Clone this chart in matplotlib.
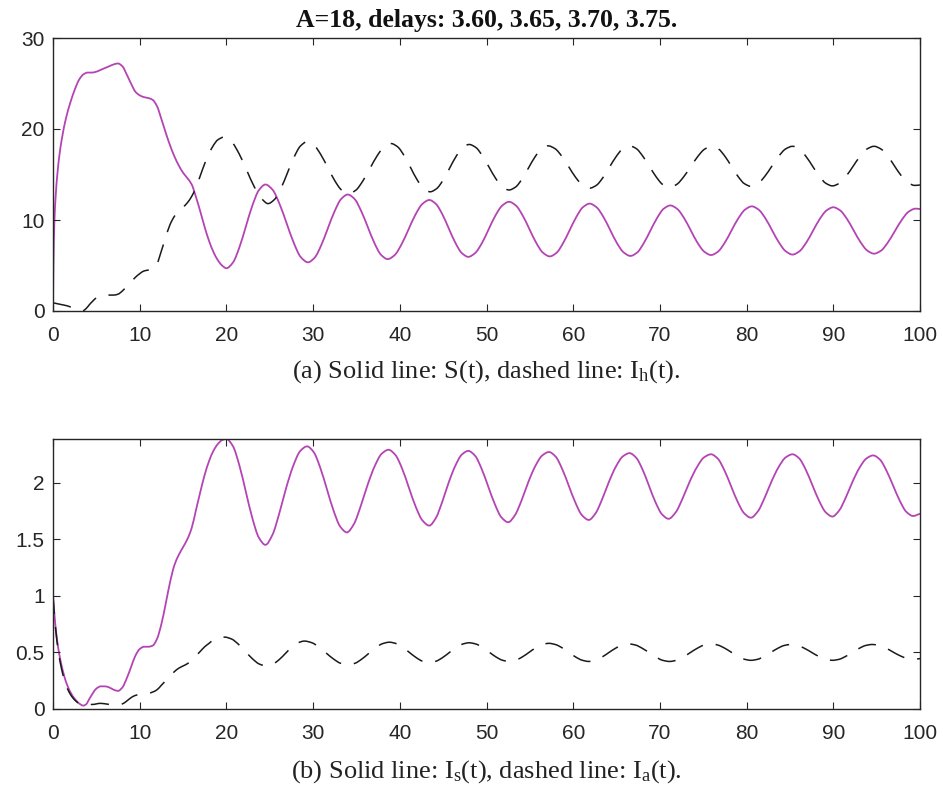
import matplotlib
matplotlib.use("Agg")
import matplotlib.pyplot as plt
import numpy as np
from matplotlib.path import Path
from matplotlib.patches import PathPatch
from matplotlib.ticker import FormatStrFormatter

plt.rcParams['mathtext.fontset'] = 'custom'
plt.rcParams['mathtext.rm'] = 'Liberation Serif'
plt.rcParams['mathtext.it'] = 'Liberation Serif:italic'

# ---- top panel: S(t) solid, I_h(t) dashed ----
t_S = [0.0, 0.05, 0.15, 0.3, 0.5, 0.75, 1.0, 1.5, 2.0, 2.5, 3.0, 3.5, 4.0, 4.5, 5.0, 5.5, 6.0, 6.5,
       7.0, 7.5, 8.0, 8.5, 9.0, 9.5, 10.0, 10.5, 11.0, 11.5, 12.0, 12.5, 13.0, 13.5, 14.0, 14.5,
       15.0, 15.5, 16.0, 16.5, 17.0, 17.5, 18.0, 18.5, 19.0, 19.5, 20.0,
       20.75, 21.5, 22.25, 23.0, 23.75, 24.5, 25.32, 26.13, 26.95, 27.77, 28.58, 29.4,
       30.17, 30.93, 31.7, 32.47, 33.23, 34.0, 34.77, 35.53, 36.3, 37.07, 37.83, 38.6,
       39.4, 40.2, 41.0, 41.8, 42.6, 43.4, 44.15, 44.9, 45.65, 46.4, 47.15, 47.9,
       48.68, 49.47, 50.25, 51.03, 51.82, 52.6, 53.38, 54.17, 54.95, 55.73, 56.52, 57.3,
       58.07, 58.83, 59.6, 60.37, 61.13, 61.9, 62.68, 63.47, 64.25, 65.03, 65.82, 66.6,
       67.37, 68.13, 68.9, 69.67, 70.43, 71.2, 71.98, 72.77, 73.55, 74.33, 75.12, 75.9,
       76.68, 77.47, 78.25, 79.03, 79.82, 80.6, 81.38, 82.17, 82.95, 83.73, 84.52, 85.3,
       86.08, 86.87, 87.65, 88.43, 89.22, 90.0, 90.78, 91.57, 92.35, 93.13, 93.92, 94.7,
       95.5, 96.3, 97.1, 97.9, 98.7, 99.5, 100.0]
S = [0.9, 5.0, 9.5, 12.5, 15.0, 17.2, 18.8, 21.2, 22.9, 24.3, 25.4, 26.0, 26.2, 26.2, 26.3, 26.5, 26.7, 26.9,
     27.1, 27.2, 26.9, 26.0, 25.0, 24.1, 23.7, 23.5, 23.4, 23.2, 22.5, 21.1, 19.6, 18.2, 17.0, 16.0,
     15.2, 14.6, 13.9, 12.5, 10.9, 9.2, 7.7, 6.5, 5.6, 5.0, 4.7,
     5.32, 7.0, 9.3, 11.6, 13.28, 13.9, 13.33, 11.76, 9.63, 7.49, 5.92, 5.35,
     5.85, 7.21, 9.08, 10.94, 12.30, 12.8, 12.32, 11.02, 9.25, 7.47, 6.18, 5.7,
     6.14, 7.33, 8.95, 10.58, 11.76, 12.2, 11.78, 10.64, 9.07, 7.51, 6.37, 5.95,
     6.36, 7.46, 8.98, 10.49, 11.59, 12.0, 11.6, 10.5, 9.0, 7.5, 6.4, 6.0,
     6.39, 7.45, 8.9, 10.35, 11.41, 11.8, 11.41, 10.36, 8.93, 7.49, 6.44, 6.05,
     6.42, 7.44, 8.83, 10.21, 11.23, 11.6, 11.23, 10.24, 8.88, 7.51, 6.52, 6.15,
     6.51, 7.49, 8.83, 10.16, 11.14, 11.5, 11.14, 10.18, 8.85, 7.53, 6.56, 6.2,
     6.55, 7.5, 8.8, 10.1, 11.05, 11.4, 11.06, 10.13, 8.85, 7.58, 6.64, 6.3,
     6.63, 7.54, 8.78, 10.01, 10.92, 11.25, 11.2]

t_Ih = [0.0, 0.5, 1.0, 1.5, 2.0, 2.5, 3.0, 3.4, 3.8, 4.2, 4.6, 5.0, 5.5, 6.0, 6.5, 7.0, 7.5, 8.0, 8.5,
        9.0, 9.5, 10.0, 10.5, 11.0, 11.5, 12.0, 12.5, 13.0, 13.5, 14.0, 14.5, 15.0, 15.5, 16.0, 16.5,
        17.0, 17.5, 18.0, 18.5, 19.0, 19.7,
        20.58, 21.47, 22.35, 23.23, 24.12, 24.8, 25.55, 26.3, 27.05, 27.8, 28.55, 29.3,
        30.1, 30.9, 31.7, 32.5, 33.3, 34.1, 34.92, 35.73, 36.55, 37.37, 38.18, 39.0,
        39.75, 40.5, 41.25, 42.0, 42.75, 43.5, 44.25, 45.0, 45.75, 46.5, 47.25, 48.0,
        48.77, 49.53, 50.3, 51.07, 51.83, 52.6, 53.35, 54.1, 54.85, 55.6, 56.35, 57.1,
        57.9, 58.7, 59.5, 60.3, 61.1, 61.9, 62.67, 63.43, 64.2, 64.97, 65.73, 66.5,
        67.27, 68.03, 68.8, 69.57, 70.33, 71.1, 71.92, 72.73, 73.55, 74.37, 75.18, 76.0,
        76.75, 77.5, 78.25, 79.0, 79.75, 80.5, 81.3, 82.1, 82.9, 83.7, 84.5, 85.3,
        86.07, 86.83, 87.6, 88.37, 89.13, 89.9, 90.7, 91.5, 92.3, 93.1, 93.9, 94.7,
        95.48, 96.27, 97.05, 97.83, 98.62, 99.4, 100.0]
Ih = [0.9, 0.8, 0.7, 0.6, 0.45, 0.25, 0.08, 0.0, 0.25, 0.7, 1.1, 1.45, 1.65, 1.75, 1.75, 1.75, 1.85, 2.2, 2.7,
      3.2, 3.7, 4.1, 4.4, 4.5, 4.6, 5.2, 6.6, 8.1, 9.5, 10.4, 11.0, 11.4, 11.9, 12.6, 13.6,
      14.9, 16.2, 17.3, 18.2, 18.8, 19.1,
      18.61, 17.27, 15.45, 13.62, 12.29, 11.8, 12.26, 13.5, 15.2, 16.9, 18.14, 18.6,
      18.22, 17.17, 15.75, 14.32, 13.28, 12.9, 13.27, 14.28, 15.65, 17.03, 18.03, 18.4,
      18.04, 17.07, 15.75, 14.42, 13.46, 13.1, 13.45, 14.4, 15.7, 17.0, 17.95, 18.3,
      17.97, 17.05, 15.8, 14.55, 13.63, 13.3, 13.62, 14.51, 15.73, 16.94, 17.83, 18.15,
      17.84, 16.99, 15.83, 14.66, 13.81, 13.5, 13.81, 14.66, 15.83, 16.99, 17.84, 18.15,
      17.85, 17.01, 15.88, 14.74, 13.9, 13.6, 13.9, 14.73, 15.85, 16.98, 17.8, 18.1,
      17.81, 17.0, 15.9, 14.8, 13.99, 13.7, 13.99, 14.8, 15.9, 17.0, 17.81, 18.1,
      17.81, 17.01, 15.93, 14.84, 14.04, 13.75, 14.04, 14.84, 15.93, 17.01, 17.81, 18.1,
      17.81, 17.03, 15.95, 14.88, 14.09, 13.8, 13.85]

# ---- bottom panel: I_s(t) solid, I_a(t) dashed ----
t_Is = [0.0, 0.15, 0.3, 0.6, 1.0, 1.5, 2.0, 2.5, 3.0, 3.5, 3.8, 4.2, 4.6, 5.0, 5.5, 6.0, 6.5, 7.0, 7.5,
        8.0, 8.5, 9.0, 9.5, 10.0, 10.5, 11.0, 11.5, 12.0, 12.5, 13.0, 13.5, 14.0, 14.5, 15.0, 15.5,
        16.0, 16.5, 17.0, 17.5, 18.0, 18.5, 19.0, 19.5, 20.0,
        20.75, 21.5, 22.25, 23.0, 23.75, 24.5, 25.3, 26.1, 26.9, 27.7, 28.5, 29.3,
        30.07, 30.83, 31.6, 32.37, 33.13, 33.9, 34.7, 35.5, 36.3, 37.1, 37.9, 38.7,
        39.48, 40.27, 41.05, 41.83, 42.62, 43.4, 44.15, 44.9, 45.65, 46.4, 47.15, 47.9,
        48.67, 49.43, 50.2, 50.97, 51.73, 52.5, 53.28, 54.07, 54.85, 55.63, 56.42, 57.2,
        57.97, 58.73, 59.5, 60.27, 61.03, 61.8, 62.58, 63.37, 64.15, 64.93, 65.72, 66.5,
        67.25, 68.0, 68.75, 69.5, 70.25, 71.0, 71.82, 72.63, 73.45, 74.27, 75.08, 75.9,
        76.67, 77.43, 78.2, 78.97, 79.73, 80.5, 81.3, 82.1, 82.9, 83.7, 84.5, 85.3,
        86.07, 86.83, 87.6, 88.37, 89.13, 89.9, 90.68, 91.47, 92.25, 93.03, 93.82, 94.6,
        95.37, 96.13, 96.9, 97.67, 98.43, 99.2, 100.0]
Is = [1.0, 0.85, 0.72, 0.54, 0.38, 0.24, 0.15, 0.09, 0.05, 0.03, 0.04, 0.09, 0.14, 0.18, 0.2, 0.2, 0.19, 0.17, 0.16,
      0.19, 0.27, 0.37, 0.47, 0.53, 0.55, 0.55, 0.56, 0.62, 0.75, 0.93, 1.12, 1.27, 1.36, 1.43, 1.5,
      1.6, 1.76, 1.92, 2.07, 2.19, 2.28, 2.34, 2.375, 2.385,
      2.322, 2.151, 1.917, 1.684, 1.513, 1.45, 1.537, 1.728, 1.955, 2.146, 2.277, 2.32,
      2.269, 2.13, 1.94, 1.75, 1.611, 1.56, 1.633, 1.794, 1.983, 2.144, 2.254, 2.29,
      2.245, 2.123, 1.955, 1.788, 1.665, 1.62, 1.686, 1.831, 2.003, 2.148, 2.247, 2.28,
      2.238, 2.123, 1.965, 1.808, 1.692, 1.65, 1.712, 1.848, 2.01, 2.146, 2.239, 2.27,
      2.23, 2.12, 1.97, 1.82, 1.71, 1.67, 1.729, 1.859, 2.012, 2.142, 2.231, 2.26,
      2.221, 2.115, 1.97, 1.825, 1.719, 1.68, 1.737, 1.862, 2.011, 2.136, 2.222, 2.25,
      2.212, 2.11, 1.97, 1.83, 1.728, 1.69, 1.746, 1.869, 2.015, 2.138, 2.222, 2.25,
      2.213, 2.113, 1.975, 1.838, 1.737, 1.70, 1.754, 1.873, 2.013, 2.132, 2.213, 2.24,
      2.204, 2.106, 1.973, 1.839, 1.741, 1.705, 1.725]

t_Ia = [0.0, 0.15, 0.3, 0.6, 1.0, 1.5, 2.0, 2.5, 3.0, 3.5, 4.5, 5.5, 6.5, 7.5, 8.0, 8.5, 9.0, 9.5,
        10.0, 10.5, 11.0, 11.5, 12.0, 12.5, 13.0, 13.5, 14.0, 14.5, 15.0, 15.5, 16.0, 16.5, 17.0,
        17.5, 18.0, 18.5, 19.0, 19.8,
        20.6, 21.4, 22.2, 23.0, 23.8, 24.6, 25.33, 26.07, 26.8, 27.53, 28.27, 29.0,
        29.83, 30.67, 31.5, 32.33, 33.17, 34.0, 34.8, 35.6, 36.4, 37.2, 38.0, 38.8,
        39.57, 40.33, 41.1, 41.87, 42.63, 43.4, 44.17, 44.93, 45.7, 46.47, 47.23, 48.0,
        48.77, 49.53, 50.3, 51.07, 51.83, 52.6, 53.37, 54.13, 54.9, 55.67, 56.43, 57.2,
        57.97, 58.73, 59.5, 60.27, 61.03, 61.8, 62.57, 63.33, 64.1, 64.87, 65.63, 66.4,
        67.18, 67.97, 68.75, 69.53, 70.32, 71.1, 71.9, 72.7, 73.5, 74.3, 75.1, 75.9,
        76.67, 77.43, 78.2, 78.97, 79.73, 80.5, 81.27, 82.03, 82.8, 83.57, 84.33, 85.1,
        85.9, 86.7, 87.5, 88.3, 89.1, 89.9, 90.67, 91.43, 92.2, 92.97, 93.73, 94.5,
        95.28, 96.07, 96.85, 97.63, 98.42, 99.2, 100.0]
Ia = [1.0, 0.84, 0.71, 0.52, 0.35, 0.21, 0.13, 0.08, 0.05, 0.04, 0.04, 0.05, 0.04, 0.035, 0.045, 0.07, 0.1, 0.12,
      0.13, 0.14, 0.14, 0.15, 0.17, 0.21, 0.25, 0.29, 0.33, 0.36, 0.38, 0.40, 0.43, 0.47, 0.51,
      0.55, 0.58, 0.61, 0.625, 0.635,
      0.618, 0.571, 0.508, 0.444, 0.397, 0.38, 0.395, 0.435, 0.49, 0.545, 0.585, 0.60,
      0.586, 0.548, 0.495, 0.443, 0.404, 0.39, 0.403, 0.44, 0.49, 0.54, 0.577, 0.59,
      0.578, 0.545, 0.5, 0.455, 0.422, 0.41, 0.422, 0.454, 0.498, 0.541, 0.573, 0.585,
      0.574, 0.544, 0.503, 0.461, 0.431, 0.42, 0.431, 0.46, 0.5, 0.54, 0.569, 0.58,
      0.569, 0.54, 0.5, 0.46, 0.431, 0.42, 0.43, 0.459, 0.498, 0.536, 0.565, 0.575,
      0.565, 0.536, 0.498, 0.459, 0.43, 0.42, 0.43, 0.459, 0.498, 0.536, 0.565, 0.575,
      0.565, 0.539, 0.503, 0.466, 0.44, 0.43, 0.439, 0.465, 0.5, 0.535, 0.561, 0.57,
      0.561, 0.535, 0.5, 0.465, 0.439, 0.43, 0.439, 0.465, 0.5, 0.535, 0.561, 0.57,
      0.561, 0.538, 0.505, 0.473, 0.449, 0.44, 0.445]

title = "A=18, delays: 3.60, 3.65, 3.70, 3.75."
cap_a = r"(a) Solid line: S(t), dashed line: $\mathrm{I_h}$(t)."
cap_b = r"(b) Solid line: $\mathrm{I_s}$(t), dashed line: $\mathrm{I_a}$(t)."

W, H = 943, 791
fig = plt.figure(figsize=(W / 100, H / 100), dpi=100)

mag = "#b444b4"
axc = "#262626"


def smooth_path(x, y):
    # curve through the read points (monotone cubic segments, drawn as bezier)
    x = np.asarray(x, float)
    y = np.asarray(y, float)
    h = np.diff(x)
    d = np.diff(y) / h
    m = np.zeros_like(y)
    m[0], m[-1] = d[0], d[-1]
    for i in range(1, len(x) - 1):
        if d[i - 1] * d[i] > 0:
            w1 = 2 * h[i] + h[i - 1]
            w2 = h[i] + 2 * h[i - 1]
            m[i] = (w1 + w2) / (w1 / d[i - 1] + w2 / d[i])
    verts = [(x[0], y[0])]
    codes = [Path.MOVETO]
    for i in range(len(h)):
        verts += [(x[i] + h[i] / 3, y[i] + m[i] * h[i] / 3),
                  (x[i + 1] - h[i] / 3, y[i + 1] - m[i + 1] * h[i] / 3),
                  (x[i + 1], y[i + 1])]
        codes += [Path.CURVE4] * 3
    return Path(verts, codes)


def draw(ax, x, y, **kw):
    ax.add_patch(PathPatch(smooth_path(x, y), fill=False, joinstyle="round", **kw))


def make_axes(px_left, px_top, px_right, px_bottom):
    ax = fig.add_axes([px_left / W, 1 - px_bottom / H, (px_right - px_left) / W, (px_bottom - px_top) / H])
    for s in ax.spines.values():
        s.set_color(axc)
        s.set_linewidth(1.0)
    ax.tick_params(direction="in", top=True, right=True, length=5, width=0.8, color=axc,
                   labelsize=15, labelcolor=axc)
    ax.tick_params(axis="x", pad=11)
    ax.tick_params(axis="y", pad=6)
    ax.set_xlim(0, 100)
    ax.set_xticks(range(0, 101, 10))
    return ax


ax1 = make_axes(53, 38, 920, 311)
draw(ax1, t_S, S, edgecolor=mag, lw=1.3)
draw(ax1, t_Ih, Ih, edgecolor="#1a1a1a", lw=1.1, linestyle=(0, (12, 8.5)))
ax1.set_ylim(0, 30)
ax1.set_yticks([0, 10, 20, 30])
ax1.set_title(title, fontfamily="Liberation Serif", fontweight="bold", fontsize=18.5, pad=8, color="#111111")

ax2 = make_axes(53, 439, 920, 709)
draw(ax2, t_Is, Is, edgecolor=mag, lw=1.3)
draw(ax2, t_Ia, Ia, edgecolor="#1a1a1a", lw=1.1, linestyle=(0, (12, 8.5)))
ax2.set_ylim(0, max(Is))
ax2.set_yticks([0, 0.5, 1, 1.5, 2])
ax2.yaxis.set_major_formatter(FormatStrFormatter("%g"))

for ax in (ax1, ax2):
    for lab in ax.get_xticklabels() + ax.get_yticklabels():
        lab.set_fontfamily("Liberation Sans")

fig.text(486 / W, 1 - 378 / H, cap_a, ha="center", va="baseline", fontsize=19,
         fontfamily="Liberation Serif", color="#222222")
fig.text(486 / W, 1 - 778 / H, cap_b, ha="center", va="baseline", fontsize=19,
         fontfamily="Liberation Serif", color="#222222")

fig.savefig("out.png", dpi=100)
